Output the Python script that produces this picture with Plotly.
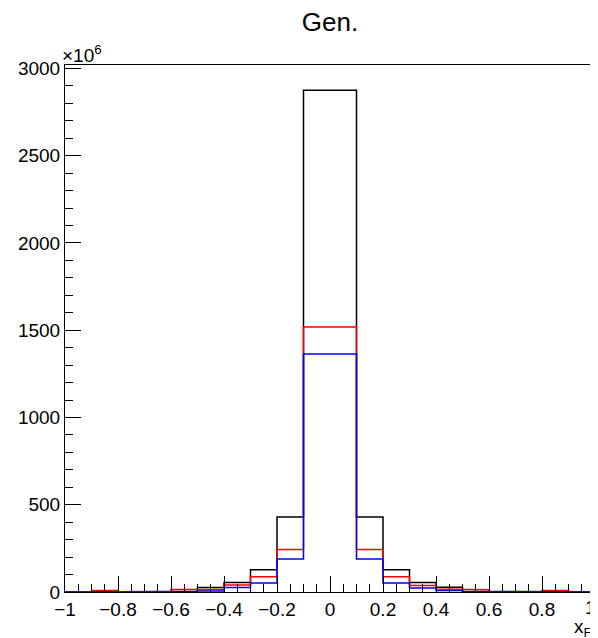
import plotly.graph_objects as go

# Bin edges (variable: centre bin spans -0.1..0.1)
edges = [-1.0, -0.9, -0.8, -0.7, -0.6, -0.5, -0.4, -0.3, -0.2, -0.1,
         0.1, 0.2, 0.3, 0.4, 0.5, 0.6, 0.7, 0.8, 0.9, 1.0]

# Bin contents in units of 10^6
black_vals = [1, 2, 2, 2, 4, 26, 55, 128, 430, 2876, 430, 128, 54, 27, 4, 2, 2, 2, 1]
red_vals = [1, 9, 1, 1, 15, 15, 40, 88, 243, 1519, 243, 87, 37, 17, 13, 1, 1, 9, 1]
blue_vals = [0, 1, 1, 1, 2, 6, 26, 52, 189, 1364, 189, 52, 23, 8, 2, 1, 1, 1, 0]

# Axis tick labels (the label at x = 1 sits on the page edge; drawn separately)
x_tickvals = [-1, -0.8, -0.6, -0.4, -0.2, 0, 0.2, 0.4, 0.6, 0.8, 1]
x_ticktext = ["\u22121", "\u22120.8", "\u22120.6", "\u22120.4", "\u22120.2",
              "0", "0.2", "0.4", "0.6", "0.8", ""]
x_edge_label = "1"
y_tickvals = [0, 500, 1000, 1500, 2000, 2500, 3000]
y_ticktext = ["0", "500", "1000", "1500", "2000", "2500", "3000"]

series = [("black", black_vals), ("red", red_vals), ("blue", blue_vals)]

y_max = 3020
font_family = "Liberation Sans, Arial, Helvetica, sans-serif"

# page body has an 8px margin, so the figure is 8px smaller than the window
fig_w, fig_h = 590, 630


def step_xy(edges, vals):
    xs = [edges[0]]
    ys = [0]
    for i, v in enumerate(vals):
        xs += [edges[i], edges[i + 1]]
        ys += [v, v]
    xs.append(edges[-1])
    ys.append(0)
    return xs, ys


fig = go.Figure()
for color, vals in series:
    xs, ys = step_xy(edges, vals)
    fig.add_trace(go.Scatter(x=xs, y=ys, mode="lines",
                             line=dict(color=color, width=1.5),
                             showlegend=False, hoverinfo="skip"))

fig.update_layout(
    width=fig_w, height=fig_h,
    margin=dict(l=57, r=3, t=57, b=46, autoexpand=False),
    paper_bgcolor="white", plot_bgcolor="white",
    font=dict(family=font_family, size=19, color="black"),
    title=dict(text="Gen.", x=0.5, xref="paper", xanchor="center",
               y=1 - 14 / fig_h, yanchor="middle", yref="container",
               font=dict(size=26, family=font_family, color="black")),
)

fig.update_xaxes(
    range=[-1, 1], showgrid=False, zeroline=False, automargin=False,
    showline=True, linecolor="black", linewidth=1, mirror=True,
    ticks="inside", ticklen=16, tickcolor="black", tickwidth=1,
    tickmode="array", tickvals=x_tickvals, ticktext=x_ticktext,
    tickfont=dict(size=19), ticklabeloverflow="allow",
    minor=dict(ticks="inside", ticklen=8, tickmode="linear",
               dtick=0.05, tick0=-1, tickcolor="black", showgrid=False),
)
fig.update_yaxes(
    range=[0, y_max], showgrid=False, zeroline=False, automargin=False,
    showline=True, linecolor="black", linewidth=1, mirror=True,
    ticks="inside", ticklen=16, tickcolor="black", tickwidth=1,
    tickmode="array", tickvals=y_tickvals, ticktext=y_ticktext,
    tickfont=dict(size=19), ticklabeloverflow="allow",
    minor=dict(ticks="inside", ticklen=8, tickmode="linear",
               dtick=100, tick0=0, tickcolor="black", showgrid=False),
)

fig.add_annotation(text=x_edge_label, xref="x", yref="paper",
                   x=x_tickvals[-1], y=0, xanchor="right", yanchor="middle",
                   xshift=3, yshift=-15,
                   showarrow=False, font=dict(size=19, family=font_family))
fig.add_annotation(text="×10<sup>6</sup>", xref="paper", yref="paper",
                   x=0, y=1, xanchor="left", yanchor="bottom", xshift=-5,
                   yshift=-3,
                   showarrow=False, font=dict(size=19, family=font_family))
fig.add_annotation(text="x<sub>F</sub>", xref="paper", yref="paper",
                   x=1, y=0, xanchor="right", yanchor="top", yshift=-22,
                   xshift=-1,
                   showarrow=False, font=dict(size=19, family=font_family))

fig.write_html("out.html")
